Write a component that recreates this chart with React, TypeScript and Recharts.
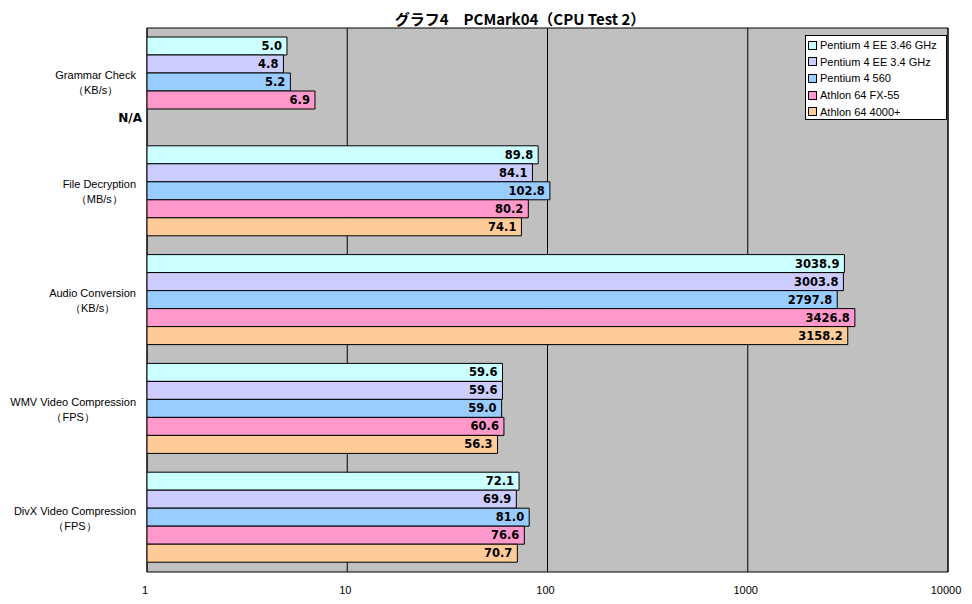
import React from 'react';
import {
  BarChart,
  Bar,
  XAxis,
  YAxis,
  CartesianGrid,
  Legend,
  LabelList,
  ReferenceArea,
} from 'recharts';

const categories = [
  ['Grammar Check', '（KB/s）'],
  ['File Decryption', '（MB/s）'],
  ['Audio Conversion', '（KB/s）'],
  ['WMV Video Compression', '（FPS）'],
  ['DivX Video Compression', '（FPS）'],
];

const seriesNames = [
  'Pentium 4 EE 3.46 GHz',
  'Pentium 4 EE 3.4 GHz',
  'Pentium 4 560',
  'Athlon 64 FX-55',
  'Athlon 64 4000+',
];

const seriesColors = ['#CCFFFF', '#CCCCFF', '#99CCFF', '#FF99CC', '#FFCC99'];

const p4ee346 = [5.0, 89.8, 3038.9, 59.6, 72.1];
const p4ee34 = [4.8, 84.1, 3003.8, 59.6, 69.9];
const p4560 = [5.2, 102.8, 2797.8, 59.0, 81.0];
const fx55 = [6.9, 80.2, 3426.8, 60.6, 76.6];
const a4000 = [null, 74.1, 3158.2, 56.3, 70.7];

const xTicks = [1, 10, 100, 1000, 10000];

const seriesValues = [p4ee346, p4ee34, p4560, fx55, a4000];
const keys = ['s0', 's1', 's2', 's3', 's4'];

const data = categories.map((c, i) => {
  const row: any = { name: c[0], unit: c[1] };
  seriesValues.forEach((vals, s) => {
    row[keys[s]] = vals[i];
  });
  return row;
});

const labelFont = "Arial, 'Liberation Sans', sans-serif";

// two-line category label: lines centred on each other, block right-aligned near the axis
const CategoryTick = (props: any) => {
  const { x, y, index } = props;
  const unit = categories[index][1];
  const missing = seriesValues.some((vals) => vals[index] == null);
  return (
    <g>
      <foreignObject x={x - 139} y={y - 14} width={136} height={32}>
        <div style={{ textAlign: 'right', width: 136, height: 32 }}>
          <div
            style={{
              display: 'inline-block',
              textAlign: 'center',
              fontFamily: labelFont,
              fontSize: 11,
              lineHeight: '15px',
              color: '#000',
              whiteSpace: 'nowrap',
            }}
          >
            {props.payload.value}
            <br />
            {unit}
          </div>
        </div>
      </foreignObject>
      {missing && (
        <text x={x + 3} y={y + 36} textAnchor="end" dominantBaseline="central"
          fontSize={12} fontWeight="bold" fontFamily="'DejaVu Sans', sans-serif" fill="#000">
          N/A
        </text>
      )}
    </g>
  );
};

const renderLegend = () => (
  <div
    style={{
      background: '#fff',
      border: '1px solid #000',
      padding: '1px 0 0 2px',
      width: 142,
      height: 85,
      boxSizing: 'border-box',
      fontFamily: labelFont,
      fontSize: 11,
    }}
  >
    {seriesNames.map((name, i) => (
      <div key={name} style={{ display: 'flex', alignItems: 'center', height: 16.6 }}>
        <span
          style={{
            width: 7,
            height: 7,
            border: '1px solid #000',
            background: seriesColors[i],
            marginRight: 3,
            display: 'inline-block',
          }}
        />
        <span>{name}</span>
      </div>
    ))}
  </div>
);

const formatValue = (v: any) => (v == null ? '' : Number(v).toFixed(1));

const App: React.FC = () => {
  return (
    <div style={{ position: 'absolute', left: 0, top: 0, width: 972, height: 604, background: '#fff' }}>
      <div
        style={{
          position: 'absolute',
          top: 9,
          left: 0,
          width: 1040,
          textAlign: 'center',
          fontFamily: "'Noto Sans CJK JP', sans-serif",
          fontSize: 15,
          fontWeight: 'bold',
          lineHeight: '20px',
          color: '#000',
        }}
      >
        グラフ4　PCMark04（CPU Test 2）
      </div>
      <BarChart
        width={972}
        height={604}
        data={data}
        layout="vertical"
        margin={{ top: 28, right: 24, bottom: 0, left: 0 }}
        barGap={0}
        barSize={18}
      >
        <CartesianGrid horizontal={false} stroke="#000" fill="#C0C0C0" fillOpacity={1} />
        <XAxis
          type="number"
          scale="log"
          domain={[1, 10000]}
          ticks={xTicks}
          allowDataOverflow
          height={32}
          tickSize={0}
          tickMargin={14}
          axisLine={false}
          tick={{ fontSize: 11, fill: '#000', fontFamily: labelFont, dx: -2 }}
        />
        <YAxis
          type="category"
          dataKey="name"
          width={147}
          axisLine={false}
          tickLine={false}
          tick={<CategoryTick />}
          interval={0}
        />
        <ReferenceArea x1={1} x2={10000} fill="none" stroke="#000" ifOverflow="visible" />
        {keys.map((k, i) => (
          <Bar
            key={k}
            dataKey={k}
            name={seriesNames[i]}
            fill={seriesColors[i]}
            stroke="#000"
            strokeWidth={1}
            isAnimationActive={false}
          >
            <LabelList
              dataKey={k}
              position="insideRight"
              offset={5}
              formatter={formatValue}
              style={{ fontSize: 11.5, fontWeight: 'bold', fill: '#000', fontFamily: "'DejaVu Sans', sans-serif" }}
            />
          </Bar>
        ))}
        <Legend
          layout="vertical"
          align="center"
          verticalAlign="middle"
          content={renderLegend}
          wrapperStyle={{ top: 35, left: 805, width: 142, height: 85 }}
        />
      </BarChart>
    </div>
  );
};

export default App;
